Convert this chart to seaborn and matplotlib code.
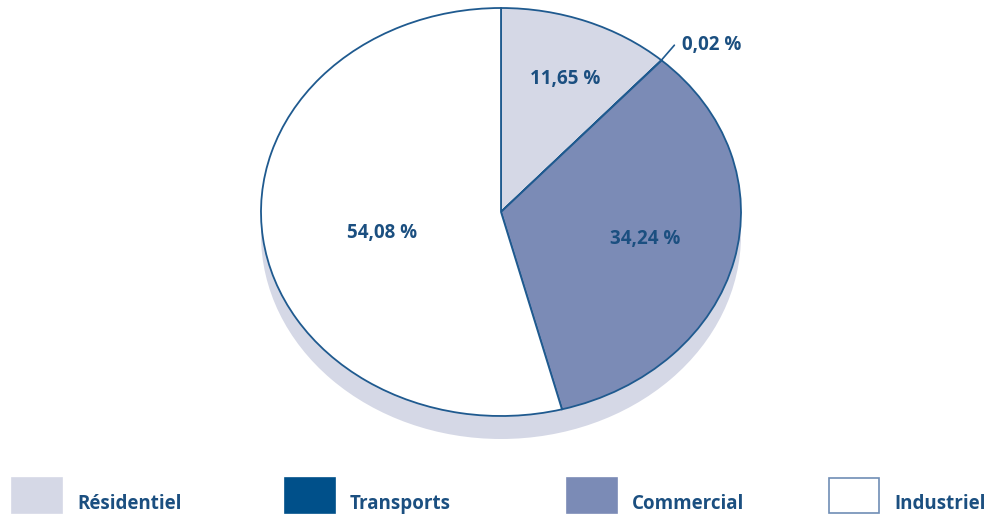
import matplotlib
matplotlib.use("Agg")
import matplotlib.pyplot as plt
from matplotlib.patches import Ellipse, Rectangle
import seaborn as sns
import numpy as np

categories = ["Résidentiel", "Transports", "Commercial", "Industriel"]
values = [11.65, 0.02, 34.24, 54.08]
labels = ["11,65 %", "0,02 %", "34,24 %", "54,08 %"]
colors = ["#d5d8e6", "#00508a", "#7b8bb6", "#ffffff"]

sns.set_theme(style="white")
plt.rcParams['font.family'] = ['Open Sans', 'DejaVu Sans']

TXT = "#1b4f80"
EDGE = "#1f5a8f"
FS = 13.5

W, H = 984, 516
fig = plt.figure(figsize=(W / 100, H / 100), dpi=100)

# pie axes: ellipse center (501, 212) px, rx=240, ry=204
cx, cy, rx, ry = 501, 212, 240, 204
shadow_px = 23
top_px = cy - ry
bot_px = cy + ry + shadow_px
ax = fig.add_axes([(cx - rx) / W, (H - bot_px) / H, 2 * rx / W, (bot_px - top_px) / H])

shadow = Ellipse((0, -shadow_px / ry), 2, 2, facecolor="#d5d8e6", edgecolor="none", zorder=0)
ax.add_patch(shadow)

wedges, _ = ax.pie(values, colors=colors, startangle=90, counterclock=False,
                   wedgeprops=dict(edgecolor=EDGE, linewidth=1.3), radius=1, center=(0, 0))
for w in wedges:
    w.set_zorder(2)
ax.set_aspect('auto')
ax.set_xlim(-1, 1)
ax.set_ylim(-1 - shadow_px / ry, 1)
ax.axis('off')

# label placement: radius factor along the mid angle plus a small nudge
radii = [0.7, None, 0.62, 0.5]
nudges = [(0.015, 0.0), (0, 0), (0.0, 0.015), (0.0, -0.04)]
for w, lab, r, (nx, ny) in zip(wedges, labels, radii, nudges):
    ang = np.deg2rad((w.theta1 + w.theta2) / 2)
    if r is None:
        x0, y0 = np.cos(ang), np.sin(ang)
        ax.plot([x0 * 0.99, x0 * 1.08], [y0 * 0.99, y0 * 1.10], color=EDGE, lw=1.2, zorder=3,
                clip_on=False)
        ax.text(x0 * 1.08 + 0.03, y0 * 1.10, lab, color=TXT, fontsize=FS,
                fontweight='bold', ha='left', va='center', zorder=4)
    else:
        ax.text(np.cos(ang) * r + nx, np.sin(ang) * r + ny, lab, color=TXT, fontsize=FS,
                fontweight='bold', ha='center', va='center', zorder=4)

# legend drawn along the bottom
lax = fig.add_axes([0, 0, 1, 1])
lax.set_xlim(0, W)
lax.set_ylim(H, 0)
lax.axis('off')
lax.set_zorder(-1)
leg_x = [12, 285, 567, 829]
leg_edges = ["#d5d8e6", "#00508a", "#7b8bb6", "#6f8db5"]
for x, cat, col, ec in zip(leg_x, categories, colors, leg_edges):
    lax.add_patch(Rectangle((x, 478), 50, 35, facecolor=col, edgecolor=ec, linewidth=1.2))
    lax.text(x + 65, 504, cat, color=TXT, fontsize=FS, fontweight='bold',
             ha='left', va='center')

fig.savefig("out.png", dpi=100, facecolor="white")
